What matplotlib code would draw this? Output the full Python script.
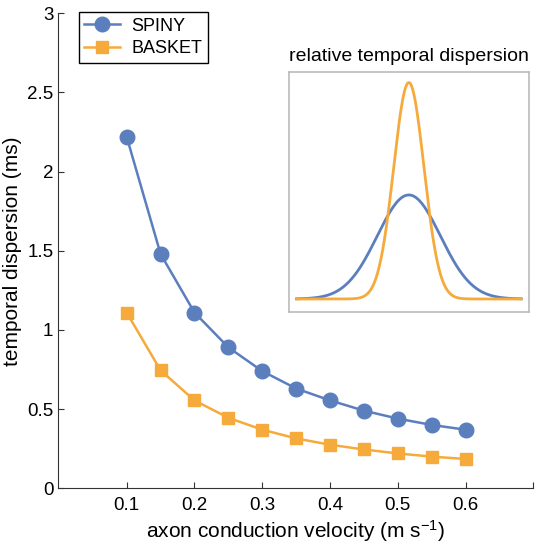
import numpy as np
from matplotlib import pyplot as plt

plt.rcParams['font.family'] = ['Liberation Sans', 'DejaVu Sans']
plt.rcParams['mathtext.default'] = 'regular'

# conduction velocity (m/s) and temporal dispersion (ms)
velocity = [0.1, 0.15, 0.2, 0.25, 0.3, 0.35, 0.4, 0.45, 0.5, 0.55, 0.6]
spiny = [2.22, 1.48, 1.11, 0.89, 0.74, 0.63, 0.555, 0.49, 0.44, 0.40, 0.37]
basket = [1.11, 0.745, 0.555, 0.445, 0.37, 0.315, 0.275, 0.245, 0.22, 0.20, 0.185]
xticks = [0.1, 0.2, 0.3, 0.4, 0.5, 0.6, 0.7]
xticklabels = ['0.1', '0.2', '0.3', '0.4', '0.5', '0.6', '']
yticks = [0, 0.5, 1, 1.5, 2, 2.5, 3]
yticklabels = ['0', '0.5', '1', '1.5', '2', '2.5', '3']

# inset: relative spread of the two populations
inset_sigma_spiny = 2.08
inset_sigma_basket = 1.0

blue = '#5b7fbd'
orange = '#f6aa3c'

fig = plt.figure(figsize=(5.39, 5.46), dpi=100)
ax = fig.add_axes([0.1067, 0.1057, 0.883, 0.870])
ax.plot(velocity, spiny, '-o', color=blue, lw=1.8, ms=10.5, label='SPINY')
ax.plot(velocity, basket, '-s', color=orange, lw=1.8, ms=9, label='BASKET')
ax.set_xlim(-0.002, 0.7)
ax.set_ylim(0, 3)
ax.set_xticks(xticks)
ax.set_xticklabels(xticklabels)
ax.set_yticks(yticks)
ax.set_yticklabels(yticklabels)
ax.tick_params(direction='in', length=4, labelsize=13.5, color='#333333')
ax.tick_params(axis='x', pad=6)
ax.tick_params(axis='y', pad=3)
for s in ['top', 'right']:
    ax.spines[s].set_visible(False)
for s in ['left', 'bottom']:
    ax.spines[s].set_color('#333333')
ax.set_xlabel('axon conduction velocity (m s$^{-1}$)', fontsize=15, labelpad=3)
ax.set_ylabel('temporal dispersion (ms)', fontsize=15, labelpad=4)
leg = ax.legend(loc='upper left', bbox_to_anchor=(0.045, 1.002), fontsize=13,
                fancybox=False, framealpha=1, edgecolor='black',
                handlelength=2.0, borderpad=0.3, labelspacing=0.3,
                handletextpad=0.6, borderaxespad=0)
leg.get_frame().set_linewidth(1.0)

ins = fig.add_axes([0.536, 0.4286, 0.445, 0.440])
t = np.linspace(-7.4, 7.4, 400)
g_spiny = np.exp(-t**2 / (2 * inset_sigma_spiny**2)) / inset_sigma_spiny
g_basket = np.exp(-t**2 / (2 * inset_sigma_basket**2)) / inset_sigma_basket
ins.plot(t, g_spiny, color=blue, lw=2.0)
ins.plot(t, g_basket, color=orange, lw=2.0)
ins.set_xlim(-7.9, 7.9)
ins.set_ylim(-0.06, 1.05)
ins.set_xticks([])
ins.set_yticks([])
for s in ins.spines.values():
    s.set_color('#bbbbbb')
    s.set_linewidth(1.2)
ins.set_title('relative temporal dispersion', fontsize=14, pad=8)

fig.savefig('out.png', dpi=100)
